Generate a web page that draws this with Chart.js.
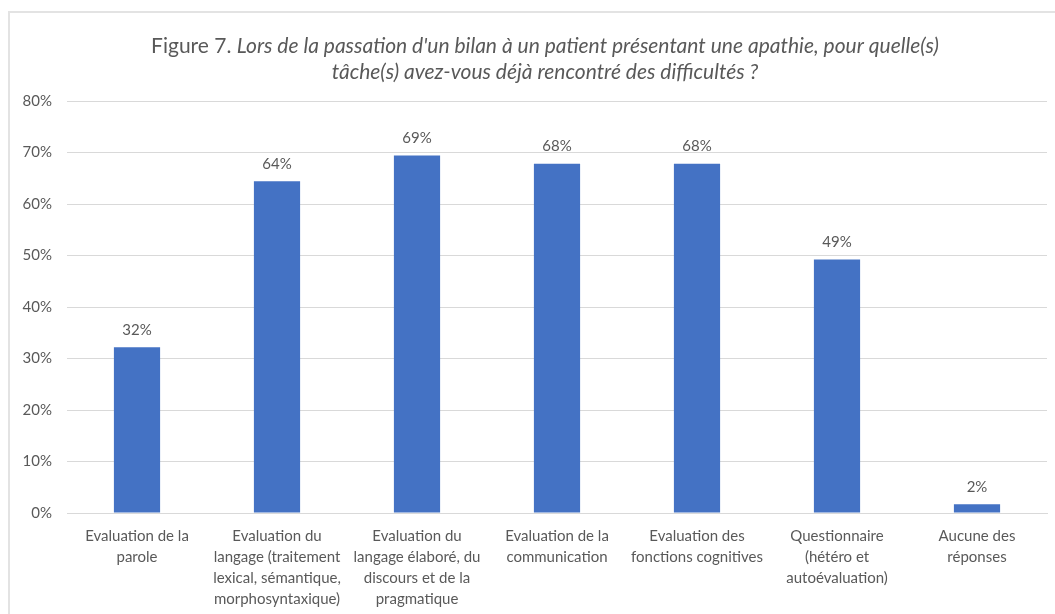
<!DOCTYPE html>
<html>
<head>
<meta charset="utf-8">
<script src="https://cdn.jsdelivr.net/npm/chart.js@4.4.1/dist/chart.umd.min.js"></script>
<style>
  html, body { margin: 0; padding: 0; background: #fff; }
  #wrap { position: relative; width: 1055px; height: 614px; }
  #frame { position: absolute; left: 8px; top: 11px; right: 0; bottom: 0;
           border-left: 2px solid #e3e3e3; border-top: 2px solid #e3e3e3; }
  canvas { position: absolute; left: 0; top: 0; }
</style>
</head>
<body>
<div id="wrap">
  <div id="frame"></div>
  <canvas id="myChart" width="1055" height="614"></canvas>
</div>
<script>
//Categories shown under each bar (one array per label, one string per line)
const categories = [
    ['Evaluation de la', 'parole'],
    ['Evaluation du', 'langage (traitement', 'lexical, sémantique,', 'morphosyntaxique)'],
    ['Evaluation du', 'langage élaboré, du', 'discours et de la', 'pragmatique'],
    ['Evaluation de la', 'communication'],
    ['Evaluation des', 'fonctions cognitives'],
    ['Questionnaire', '(hétéro et', 'autoévaluation)'],
    ['Aucune des', 'réponses']
];

//Percentages
const percentages = [32.2, 64.4, 69.4, 67.8, 67.8, 49.2, 1.7];

//Y axis ticks
const yTicks = [0, 10, 20, 30, 40, 50, 60, 70, 80];

const titleNormal = 'Figure 7. ';
const titleItalic1 = "Lors de la passation d'un bilan à un patient présentant une apathie, pour quelle(s)";
const titleItalic2 = 'tâche(s) avez-vous déjà rencontré des difficultés ?';

const textColor = '#595959';
const fontFamily = 'Lato, "Open Sans", sans-serif';

//Draws the two line title, first words upright and the rest in italic
const titlePlugin = {
    id: 'mixedTitle',
    afterDraw(chart) {
        const c = chart.ctx;
        c.save();
        c.fillStyle = textColor;
        c.textBaseline = 'middle';
        c.textAlign = 'left';
        //size the title so the first line spans about the same width as the original
        c.font = '16px ' + fontFamily;
        let w = c.measureText(titleNormal).width;
        c.font = 'italic 16px ' + fontFamily;
        w += c.measureText(titleItalic1).width;
        const size = Math.min(21, 16 * 790 / w);
        const normalFont = size + 'px ' + fontFamily;
        const italicFont = 'italic ' + size + 'px ' + fontFamily;
        c.font = normalFont;
        const w1 = c.measureText(titleNormal).width;
        c.font = italicFont;
        const w2 = c.measureText(titleItalic1).width;
        let x = 545 - (w1 + w2) / 2;
        c.font = normalFont;
        c.fillText(titleNormal, x, 46);
        c.font = italicFont;
        c.fillText(titleItalic1, x + w1, 46);
        c.textAlign = 'center';
        c.fillText(titleItalic2, 545, 72);
        c.restore();
    }
};

//Value labels above the bars
const valueLabels = {
    id: 'valueLabels',
    afterDatasetsDraw(chart) {
        const c = chart.ctx;
        const meta = chart.getDatasetMeta(0);
        c.save();
        c.fillStyle = textColor;
        c.font = '15px ' + fontFamily;
        c.textAlign = 'center';
        c.textBaseline = 'bottom';
        meta.data.forEach((bar, i) => {
            c.fillText(Math.round(percentages[i]) + '%', bar.x, bar.y - 10);
        });
        c.restore();
    }
};

const ctx = document.getElementById('myChart').getContext('2d');

const myChart = new Chart(ctx, {
    type: 'bar',
    data: {
        labels: categories,
        datasets: [{
            data: percentages,
            backgroundColor: '#4472C4',
            borderWidth: 0,
            barPercentage: 0.33,
            categoryPercentage: 1
        }]
    },
    options: {
        responsive: false,
        animation: false,
        layout: {
            padding: { top: 101, right: 8, left: 0, bottom: 0 }
        },
        scales: {
            x: {
                grid: { display: false },
                border: { color: '#d9d9d9', width: 1 },
                ticks: {
                    color: textColor,
                    font: { family: fontFamily, size: 15, lineHeight: 1.4 },
                    maxRotation: 0,
                    autoSkip: false,
                    padding: 5
                },
                afterFit(axis) { axis.height = 101; }
            },
            y: {
                min: 0,
                max: 80,
                afterBuildTicks(axis) { axis.ticks = yTicks.map(v => ({ value: v })); },
                grid: { color: '#d9d9d9', drawTicks: false },
                border: { display: false },
                ticks: {
                    color: textColor,
                    font: { family: fontFamily, size: 15 },
                    padding: 15,
                    callback: v => v + '%'
                },
                afterFit(axis) { axis.width = 67; }
            }
        },
        plugins: {
            legend: { display: false },
            tooltip: { enabled: false },
            title: { display: false }
        }
    },
    plugins: [titlePlugin, valueLabels]
});
</script>
</body>
</html>
